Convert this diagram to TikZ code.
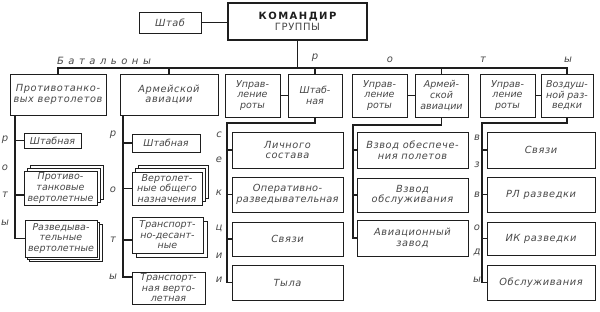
\documentclass[tikz,border=0pt]{standalone}
\usepackage{fontspec}
\setmainfont{DejaVu Sans}
\usetikzlibrary{calc}
\definecolor{ink}{HTML}{1E1E1E}
\definecolor{txt}{HTML}{484848}
\newcommand{\bxf}{\fontsize{9.5}{10.6}\selectfont\itshape}
\newcommand{\wbxf}{\fontsize{9.8}{10.8}\selectfont\itshape}
\newcommand{\labf}{\fontsize{10}{11}\selectfont\itshape}
\newcommand{\mkbox}[7][]{\node[bx,#1,minimum width={#5-#3},minimum height={#6-#4}] (#2) at ({(#3+#5)/2},{(#4+#6)/2}) {#7};}
\begin{document}
\begin{tikzpicture}[x=1pt,y=-1pt,
  bx/.style={draw=ink, line width=0.8pt, fill=white, inner sep=0pt, align=center, font=\bxf, text=txt},
  wide/.style={font=\wbxf\addfontfeature{LetterSpace=6}},
  conn/.style={draw=ink, line width=1.1pt},
  lab/.style={font=\labf, text=txt, inner sep=0pt}]
\useasboundingbox[fill=white] (0,0) rectangle (600,312);
% top
\mkbox[line width=2pt]{cmd}{228}{3}{367}{40}{{\fontsize{10}{12}\selectfont\upshape\bfseries\addfontfeature{LetterSpace=15}\color{ink}КОМАНДИР}\\{\fontsize{10}{12}\selectfont\upshape\addfontfeature{LetterSpace=6}ГРУППЫ}}
\mkbox[wide]{shtab}{139}{12}{201}{33}{Штаб}
\draw[conn] (shtab.east) -- (shtab.east -| cmd.west);
\coordinate (bus) at (297.5,68);
% level 1
\mkbox[wide]{b1}{10}{74}{106}{115}{Противотанко-\\вых вертолетов}
\mkbox[wide]{b2}{120}{74}{218}{115}{Армейской\\авиации}
\mkbox{u3}{225}{74}{280}{117}{Управ-\\ление\\роты}
\mkbox{s3}{288}{74}{342}{117}{Штаб-\\ная}
\mkbox{u4}{352}{74}{407}{117}{Управ-\\ление\\роты}
\mkbox{a4}{415}{74}{468}{117}{Армей-\\ской\\авиации}
\mkbox{u5}{480}{74}{535}{117}{Управ-\\ление\\роты}
\mkbox{v5}{541}{74}{593}{117}{Воздуш-\\ной раз-\\ведки}
\draw[conn] (cmd.south) -- (bus);
\draw[conn] (b1.north) |- (bus) -| (v5.north);
\draw[conn] (b2.north) -- (b2.north |- bus);
\draw[conn] (s3.north) -- (s3.north |- bus);
\draw[conn] (a4.north) -- (a4.north |- bus);
\draw[conn] (u3.east) -- (u3.east -| s3.west);
\draw[conn] (u4.east) -- (u4.east -| a4.west);
\draw[conn] (u5.east) -- (u5.east -| v5.west);
\node[lab,font=\labf\addfontfeature{LetterSpace=45}] (bat) at (104,61) {Батальоны};
\node[lab] (rr) at (315,58) {р};
\node[lab] (ro) at (390,60) {о};
\node[lab] (rt) at (483,60) {т};
\node[lab] (ry) at (568,60) {ы};
% column 1
\mkbox{c1a}{24}{133}{81}{148}{Штабная}
\mkbox{c1b3}{30}{165}{103}{199}{}
\mkbox{c1b2}{27}{168}{100}{202}{}
\mkbox{c1b}{24}{171}{97}{205}{Противо-\\танковые\\вертолетные}
\mkbox{c1c3}{29.5}{224.5}{102}{261.5}{}
\mkbox{c1c2}{27}{222}{99.5}{259.5}{}
\mkbox{c1c}{25}{220}{97}{257}{Разведыва-\\тельные\\вертолетные}
\coordinate (v1) at (15,0);
\draw[conn] (v1 |- b1.south) |- (c1c.west);
\draw[conn] (v1 |- c1a.west) -- (c1a.west);
\draw[conn] ([yshift=-7pt]v1 |- c1b.west) -- ([yshift=-7pt]c1b.west);
\node[lab] (l1a) at (5,140) {р};
\node[lab] (l1b) at (5,168) {о};
\node[lab] (l1c) at (5,195) {т};
\node[lab] (l1d) at (5,223) {ы};
% column 2
\mkbox{c2a}{132}{134}{200}{152}{Штабная}
\mkbox{c2b3}{138}{165}{208}{198}{}
\mkbox{c2b2}{135}{168}{205}{201}{}
\mkbox{c2b}{132}{172}{202}{205}{Вертолет-\\ные общего\\назначения}
\mkbox{c2c2}{136}{221}{207}{257}{}
\mkbox{c2c}{132}{217}{203}{253}{Транспорт-\\но-десант-\\ные}
\mkbox{c2d}{132}{272}{205}{304}{Транспорт-\\ная верто-\\летная}
\coordinate (v2) at (123,0);
\draw[conn] (v2 |- b2.south) |- ([yshift=11pt]c2d.west);
\draw[conn] (v2 |- c2a.west) -- (c2a.west);
\draw[conn] (v2 |- c2b.west) -- (c2b.west);
\draw[conn] ([yshift=-5pt]v2 |- c2c.west) -- ([yshift=-5pt]c2c.west);
\node[lab] (l2a) at (113,135) {р};
\node[lab] (l2b) at (113,190) {о};
\node[lab] (l2c) at (113,240) {т};
\node[lab] (l2d) at (113,277) {ы};
% column 3
\mkbox[wide]{c3a}{232}{132}{343}{168}{Личного\\состава}
\mkbox[font=\wbxf\addfontfeature{LetterSpace=3}]{c3b}{232}{177}{343}{212}{Оперативно-\\разведывательная}
\mkbox[wide]{c3c}{232}{222}{343}{256}{Связи}
\mkbox[wide]{c3d}{232}{265}{343}{300}{Тыла}
\coordinate (v3) at (227,123);
\draw[conn] (s3.south) |- (v3) |- (c3d.west);
\draw[conn] (v3 |- c3a.west) -- (c3a.west);
\draw[conn] (v3 |- c3b.west) -- (c3b.west);
\draw[conn] (v3 |- c3c.west) -- (c3c.west);
\node[lab] (l3a) at (219,135) {с};
\node[lab] (l3b) at (219,160) {е};
\node[lab] (l3c) at (219,193) {к};
\node[lab] (l3d) at (219,228) {ц};
\node[lab] (l3e) at (219,256) {и};
\node[lab] (l3f) at (219,280) {и};
% column 4
\mkbox[wide]{c4a}{357}{132}{468}{168}{Взвод обеспече-\\ния полетов}
\mkbox[wide]{c4b}{357}{178}{468}{212}{Взвод\\обслуживания}
\mkbox[wide]{c4c}{357}{220}{468}{256}{Авиационный\\завод}
\coordinate (v4) at (353,125);
\draw[conn] (a4.south) |- (v4) |- (c4c.west);
\draw[conn] (v4 |- c4a.west) -- (c4a.west);
\draw[conn] (v4 |- c4b.west) -- (c4b.west);
% column 5
\mkbox[wide]{c5a}{487}{132}{595}{168}{Связи}
\mkbox[wide]{c5b}{487}{177}{595}{212}{РЛ разведки}
\mkbox[wide]{c5c}{487}{222}{595}{255}{ИК разведки}
\mkbox[wide]{c5d}{487}{265}{595}{300}{Обслуживания}
\coordinate (v5c) at (482,123);
\draw[conn] (v5.south) |- (v5c) |- (c5d.west);
\draw[conn] (v5c |- c5a.west) -- (c5a.west);
\draw[conn] (v5c |- c5b.west) -- (c5b.west);
\draw[conn] (v5c |- c5c.west) -- (c5c.west);
\node[lab] (l5a) at (477,138) {в};
\node[lab] (l5b) at (477,165) {з};
\node[lab] (l5c) at (477,195) {в};
\node[lab] (l5d) at (477,228) {о};
\node[lab] (l5e) at (477,252) {д};
\node[lab] (l5f) at (477,280) {ы};
\end{tikzpicture}
\end{document}
